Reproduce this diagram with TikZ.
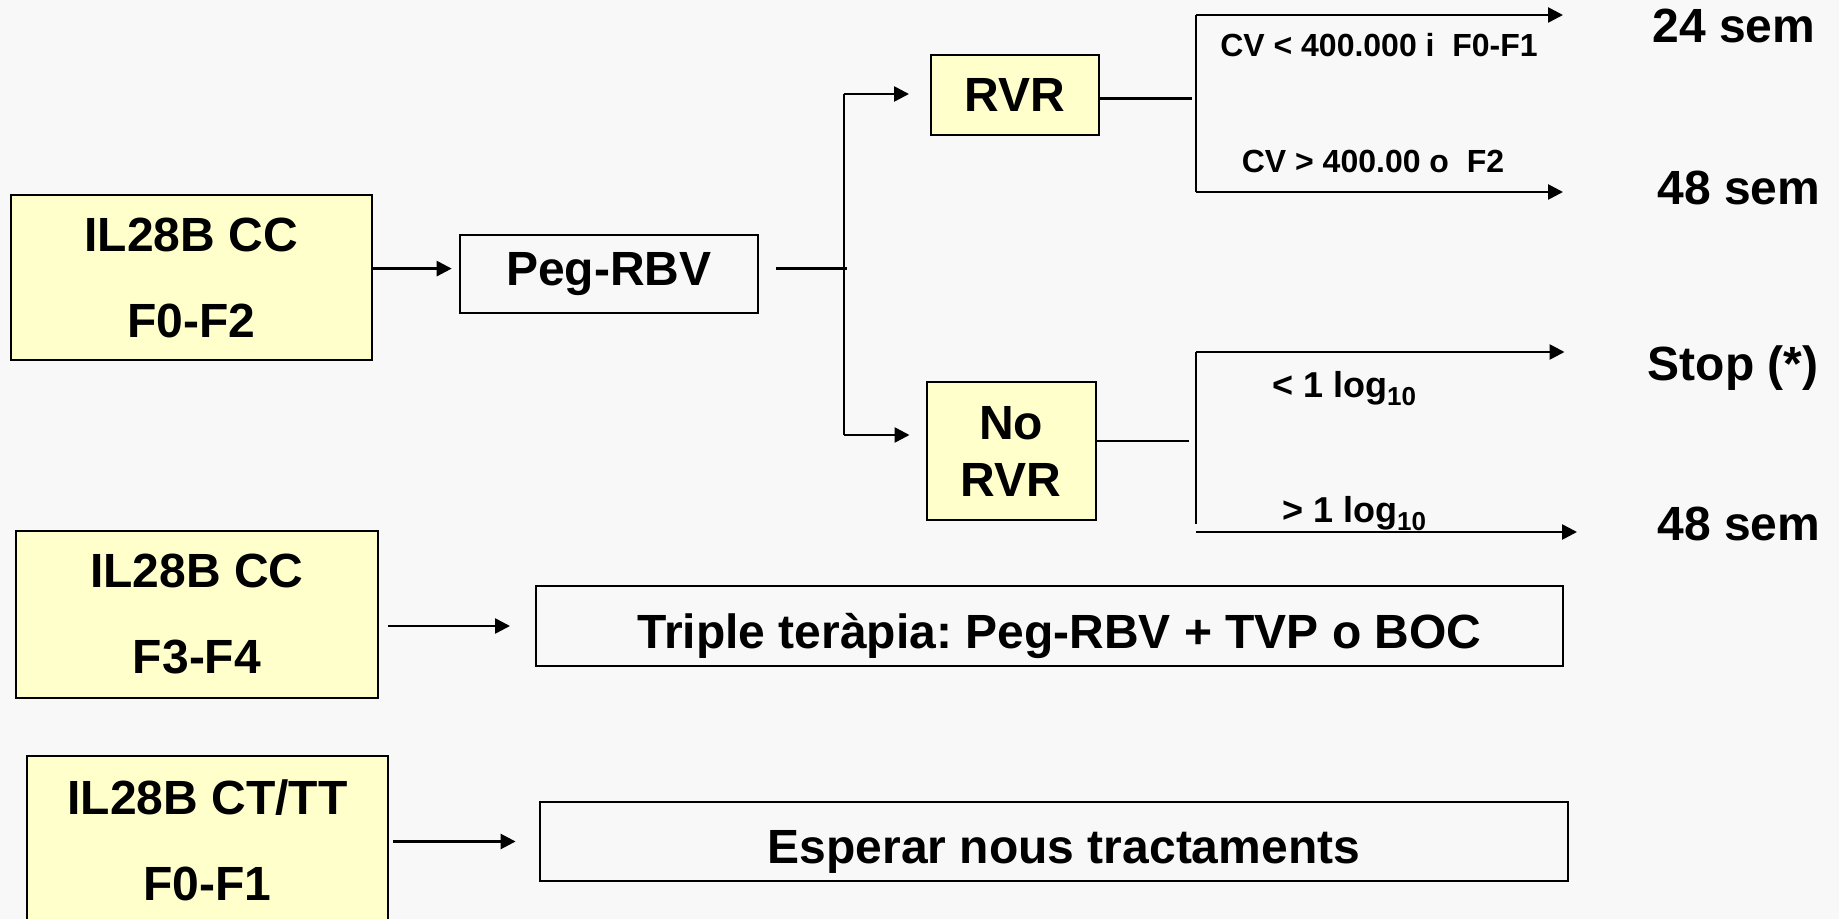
\documentclass[tikz,border=0pt]{standalone}
\usepackage{fontspec}
\setmainfont{Liberation Sans}
\usetikzlibrary{calc, positioning}
\usetikzlibrary{arrows.meta}

\definecolor{bgcol}{HTML}{F8F8F8}
\definecolor{boxyellow}{HTML}{FFFFCC}
\newcommand{\lsub}[1]{\raisebox{-4pt}{\fontsize{13}{13}\selectfont #1}}
\frenchspacing

\begin{document}
\begin{tikzpicture}[x=0.5pt, y=-0.5pt,
  box/.style={draw=black, line width=1pt, inner sep=0pt, align=center,
    font=\fontsize{24}{26}\selectfont\bfseries},
  ybox/.style={box, fill=boxyellow},
  wide/.style={box, text height=22.4pt, text depth=0pt},
  lbl/.style={anchor=base, font=\fontsize{24}{26}\selectfont\bfseries},
  cond/.style={anchor=base, font=\fontsize{16}{18}\selectfont\bfseries},
  logc/.style={anchor=base, font=\fontsize{18}{20}\selectfont\bfseries},
  ln/.style={line width=1.3pt},
  arr/.style={line width=1.3pt, -{Triangle[length=7.5pt, width=7.5pt]}}]

\clip (0,0) rectangle (1839,919);
\fill[bgcol] (0,0) rectangle (1839,919);

% boxes
\node[ybox, minimum width=180.6pt, minimum height=82.5pt] (cc1) at (191.2,277.5) {IL28B CC\\[17pt]F0-F2};
\node[box, minimum width=149pt, minimum height=39.2pt] (peg) at (608.7,274) {Peg-RBV};
\node[ybox, minimum width=84pt, minimum height=40pt] (rvr) at (1015,95) {RVR};
\node[ybox, minimum width=84.5pt, minimum height=68.75pt] (norvr) at (1011,451) {No\\[2.5pt]RVR};
\node[ybox, minimum width=180.6pt, minimum height=83.5pt] (cc2) at (197,614.5) {IL28B CC\\[17pt]F3-F4};
\node[wide, minimum width=513.5pt, minimum height=40pt] (triple) at (1049.5,626) {\hspace*{10pt}Triple teràpia: Peg-RBV + TVP o BOC};
\node[ybox, minimum width=180.6pt, minimum height=84pt] (ctt) at (207.5,840) {IL28B CT/TT\\[17pt]F0-F1};
\node[wide, minimum width=514pt, minimum height=39.5pt] (wait) at (1054,841.5) {\hspace*{10pt}Esperar nous tractaments};

% outcomes
\node[lbl] (w24) at (1734,43) {24 sem};
\node[lbl] (w48a) at (1739,205) {48 sem};
\node[lbl] (stop) at (1733,380) {Stop (*)};
\node[lbl] (w48b) at (1739,540) {48 sem};

% conditions
\node[cond] (cvlo) at (1379,57) {CV < 400.000 i\ \ F0-F1};
\node[cond] (cvhi) at (1373,173) {CV > 400.00 o\ \ F2};
\node[logc] (loglo) at (1344,397) {< 1 log\lsub{10}};
\node[logc] (loghi) at (1354,522) {> 1 log\lsub{10}};

% first split
\coordinate (split) at (844,268.6);
\coordinate (splittop) at (844,94);
\coordinate (splitbot) at (844,435);
\draw[arr, shorten >=3.5pt] (cc1.east |- split) -- (peg.west |- split);
\draw[ln, shorten <=8.7pt] (peg.east |- split) -- ([xshift=1.5pt]split);
\draw[ln] (splittop) -- (splitbot);
\draw[arr, shorten >=10.5pt] (splittop) -- (rvr.west |- splittop);
\draw[arr, shorten >=8pt] (splitbot) -- (norvr.west |- splitbot);

% RVR split
\coordinate (rsplit) at (1196,98.5);
\coordinate (rtop) at (1196,15);
\coordinate (rbot) at (1196,192);
\coordinate (rtip1) at (1563,15);
\coordinate (rtip2) at (1563,192);
\draw[ln, shorten >=2.2pt] (rvr.east |- rsplit) -- (rsplit);
\draw[ln] (rtop) -- (rbot);
\draw[arr] (rtop) -- (rtip1);
\draw[arr] (rbot) -- (rtip2);

% No RVR split
\coordinate (nsplit) at (1196,441);
\coordinate (ntop) at (1196,352);
\coordinate (nbot) at (1196,524);
\coordinate (nlow) at (1196,532);
\coordinate (ntip1) at (1564.5,352);
\coordinate (ntip2) at (1577,532);
\draw[ln, shorten >=3.5pt] (norvr.east |- nsplit) -- (nsplit);
\draw[ln] (ntop) -- (nbot);
\draw[arr] (ntop) -- (ntip1);
\draw[arr] (nlow) -- (ntip2);

% other groups
\draw[arr, shorten <=4.7pt, shorten >=12.5pt] (cc2.east |- triple.west) -- (triple.west);
\draw[arr, shorten <=2pt, shorten >=11.7pt] (ctt.east |- wait.west) -- (wait.west);
\end{tikzpicture}
\end{document}
